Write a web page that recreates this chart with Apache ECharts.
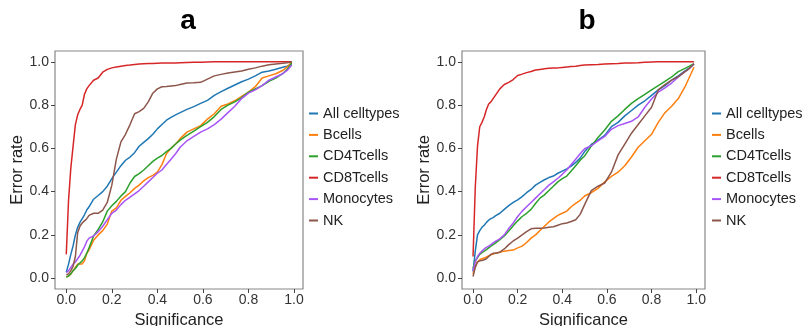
<!DOCTYPE html>
<html>
<head>
<meta charset="utf-8">
<script src="https://cdn.jsdelivr.net/npm/echarts@6/dist/echarts.min.js"></script>
<style>
  html, body { margin: 0; padding: 0; background: #fff; }
  #chart { width: 804px; height: 326px; }
</style>
</head>
<body>
<div id="chart"></div>
<script>
// significance levels (x), shared by every curve
var sig = [0, 0.01, 0.02, 0.03, 0.04, 0.05, 0.06, 0.07, 0.08, 0.09, 0.10, 0.12, 0.14, 0.16, 0.18, 0.20,
    0.22, 0.24, 0.26, 0.28, 0.30, 0.32, 0.34, 0.36, 0.38, 0.40, 0.42, 0.44, 0.46, 0.48, 0.50, 0.53,
    0.56, 0.59, 0.62, 0.65, 0.68, 0.71, 0.74, 0.77, 0.80, 0.83, 0.86, 0.89, 0.92, 0.95, 0.97, 0.99];

var cellTypes = ['All celltypes', 'Bcells', 'CD4Tcells', 'CD8Tcells', 'Monocytes', 'NK'];
var colors = ['#1f77b4', '#ff7f0e', '#2ca02c', '#d62728', '#a855f7', '#8c564b'];
var tickValues = [0, 0.2, 0.4, 0.6, 0.8, 1.0];

// panel a: error rate
var allA = [0.028, 0.065, 0.11, 0.15, 0.2, 0.235, 0.258, 0.275, 0.293, 0.315, 0.33, 0.365, 0.382, 0.40, 0.425, 0.46,
    0.49, 0.52, 0.545, 0.56, 0.58, 0.61, 0.628, 0.645, 0.665, 0.69, 0.71, 0.73, 0.743, 0.755, 0.765, 0.78,
    0.793, 0.808, 0.822, 0.845, 0.862, 0.878, 0.893, 0.908, 0.92, 0.935, 0.952, 0.958, 0.966, 0.975, 0.98, 0.99];
var bA = [0.005, 0.01, 0.02, 0.035, 0.05, 0.065, 0.066, 0.066, 0.08, 0.115, 0.13, 0.175, 0.20, 0.22, 0.25, 0.31,
    0.325, 0.36, 0.378, 0.395, 0.415, 0.43, 0.45, 0.465, 0.475, 0.49, 0.525, 0.575, 0.60, 0.62, 0.645, 0.675,
    0.69, 0.705, 0.735, 0.76, 0.795, 0.805, 0.82, 0.84, 0.86, 0.885, 0.925, 0.935, 0.945, 0.96, 0.975, 1.0];
var cd4A = [0.005, 0.01, 0.02, 0.035, 0.045, 0.06, 0.07, 0.08, 0.095, 0.115, 0.14, 0.195, 0.225, 0.26, 0.31, 0.335,
    0.355, 0.38, 0.40, 0.44, 0.47, 0.483, 0.50, 0.52, 0.54, 0.555, 0.567, 0.585, 0.60, 0.62, 0.638, 0.66,
    0.68, 0.70, 0.72, 0.747, 0.78, 0.80, 0.815, 0.835, 0.86, 0.875, 0.89, 0.91, 0.925, 0.945, 0.965, 0.995];
var cd8A = [0.11, 0.36, 0.51, 0.61, 0.71, 0.755, 0.78, 0.80, 0.85, 0.875, 0.89, 0.915, 0.925, 0.952, 0.965, 0.972,
    0.976, 0.98, 0.983, 0.985, 0.988, 0.99, 0.991, 0.992, 0.992, 0.993, 0.994, 0.994, 0.995, 0.995, 0.996, 0.997,
    0.998, 0.998, 0.999, 1.0, 1.0, 1.0, 1.0, 1.0, 1.0, 1.0, 1.0, 1.0, 1.0, 1.0, 1.0, 1.0];
var monoA = [0.025, 0.035, 0.05, 0.065, 0.075, 0.09, 0.105, 0.125, 0.145, 0.17, 0.185, 0.195, 0.215, 0.24, 0.27, 0.30,
    0.315, 0.34, 0.36, 0.375, 0.39, 0.405, 0.425, 0.445, 0.465, 0.485, 0.50, 0.525, 0.55, 0.575, 0.605, 0.635,
    0.655, 0.675, 0.69, 0.71, 0.735, 0.765, 0.795, 0.83, 0.855, 0.87, 0.89, 0.915, 0.93, 0.945, 0.96, 0.985];
var nkA = [0.015, 0.02, 0.035, 0.055, 0.1, 0.21, 0.24, 0.255, 0.265, 0.275, 0.29, 0.30, 0.30, 0.315, 0.35, 0.43,
    0.55, 0.63, 0.665, 0.71, 0.76, 0.77, 0.785, 0.815, 0.855, 0.875, 0.885, 0.886, 0.888, 0.89, 0.895, 0.902,
    0.903, 0.905, 0.92, 0.935, 0.942, 0.948, 0.953, 0.958, 0.966, 0.972, 0.98, 0.986, 0.99, 0.993, 0.996, 1.0];

// panel b: error rate
var allB = [0.03, 0.125, 0.2, 0.22, 0.235, 0.245, 0.258, 0.268, 0.275, 0.28, 0.288, 0.30, 0.318, 0.335, 0.35, 0.362,
    0.377, 0.395, 0.41, 0.43, 0.443, 0.455, 0.465, 0.472, 0.485, 0.495, 0.505, 0.518, 0.535, 0.555, 0.585, 0.618,
    0.638, 0.66, 0.70, 0.72, 0.75, 0.775, 0.80, 0.82, 0.845, 0.87, 0.89, 0.915, 0.935, 0.958, 0.972, 0.99];
var bB = [0.02, 0.055, 0.075, 0.085, 0.09, 0.093, 0.098, 0.103, 0.108, 0.112, 0.115, 0.12, 0.125, 0.128, 0.13, 0.14,
    0.148, 0.165, 0.185, 0.2, 0.22, 0.24, 0.26, 0.275, 0.29, 0.3, 0.31, 0.33, 0.346, 0.36, 0.38, 0.395,
    0.415, 0.445, 0.47, 0.49, 0.52, 0.56, 0.605, 0.635, 0.665, 0.72, 0.765, 0.795, 0.83, 0.885, 0.93, 0.975];
var cd4B = [0.045, 0.08, 0.095, 0.11, 0.118, 0.125, 0.132, 0.14, 0.148, 0.155, 0.162, 0.178, 0.195, 0.218, 0.242, 0.265,
    0.285, 0.30, 0.318, 0.345, 0.37, 0.385, 0.405, 0.425, 0.445, 0.46, 0.472, 0.495, 0.52, 0.545, 0.565, 0.61,
    0.65, 0.685, 0.725, 0.75, 0.78, 0.808, 0.83, 0.85, 0.87, 0.89, 0.91, 0.93, 0.955, 0.97, 0.98, 0.992];
var cd8B = [0.1, 0.42, 0.61, 0.70, 0.72, 0.745, 0.78, 0.805, 0.815, 0.83, 0.845, 0.875, 0.895, 0.905, 0.918, 0.937,
    0.943, 0.95, 0.955, 0.962, 0.965, 0.968, 0.97, 0.971, 0.972, 0.974, 0.976, 0.978, 0.98, 0.983, 0.985, 0.987,
    0.988, 0.99, 0.991, 0.992, 0.994, 0.995, 0.996, 0.998, 0.999, 1.0, 1.0, 1.0, 1.0, 1.0, 1.0, 1.0];
var monoB = [0.035, 0.075, 0.1, 0.115, 0.125, 0.135, 0.142, 0.148, 0.155, 0.163, 0.17, 0.182, 0.2, 0.23, 0.255, 0.285,
    0.31, 0.33, 0.35, 0.37, 0.39, 0.41, 0.43, 0.445, 0.462, 0.48, 0.50, 0.525, 0.55, 0.575, 0.598, 0.612,
    0.635, 0.655, 0.688, 0.705, 0.715, 0.725, 0.745, 0.79, 0.828, 0.86, 0.88, 0.902, 0.93, 0.955, 0.97, 0.99];
var nkB = [0.008, 0.05, 0.075, 0.08, 0.082, 0.085, 0.09, 0.1, 0.11, 0.115, 0.115, 0.12, 0.135, 0.155, 0.172, 0.185,
    0.2, 0.215, 0.228, 0.231, 0.231, 0.232, 0.235, 0.238, 0.245, 0.252, 0.255, 0.262, 0.27, 0.295, 0.34, 0.405,
    0.425, 0.44, 0.49, 0.57, 0.62, 0.67, 0.71, 0.75, 0.79, 0.87, 0.895, 0.915, 0.932, 0.955, 0.97, 0.99];

var panelA = [allA, bA, cd4A, cd8A, monoA, nkA];
var panelB = [allB, bB, cd4B, cd8B, monoB, nkB];

var FONT = '"Liberation Sans", Arial, sans-serif';

function makeXAxis(idx) {
    return {
        type: 'value', gridIndex: idx, min: -0.0495, max: 1.0395,
        name: 'Significance', nameLocation: 'middle', nameGap: 15,
        nameTextStyle: { fontFamily: FONT, fontSize: 16.5, color: '#222' },
        axisLine: { show: false, onZero: false },
        splitLine: { show: false },
        axisTick: { show: true, customValues: tickValues, length: 4, lineStyle: { color: '#444', width: 1 } },
        axisLabel: {
            customValues: tickValues, margin: 4, fontFamily: FONT, fontSize: 14, color: '#333',
            formatter: function (v) { return v.toFixed(1); }
        }
    };
}

function makeYAxis(idx) {
    return {
        type: 'value', gridIndex: idx, min: -0.05, max: 1.05,
        name: 'Error rate', nameLocation: 'middle', nameGap: 27, nameRotate: 90,
        nameTextStyle: { fontFamily: FONT, fontSize: 16.5, color: '#222' },
        axisLine: { show: false, onZero: false },
        splitLine: { show: false },
        axisTick: { show: true, customValues: tickValues, length: 4, lineStyle: { color: '#444', width: 1 } },
        axisLabel: {
            customValues: tickValues, margin: 6, fontFamily: FONT, fontSize: 14, color: '#333',
            formatter: function (v) { return v.toFixed(1); }
        }
    };
}

function makeLegend(left) {
    return {
        orient: 'vertical', left: left, top: 106, padding: 0,
        itemWidth: 9, itemHeight: 2, itemGap: 6.4,
        icon: 'rect',
        data: cellTypes,
        textStyle: { fontFamily: FONT, fontSize: 14.5, color: '#222', lineHeight: 14 }
    };
}

var series = [];
[panelA, panelB].forEach(function (panel, p) {
    panel.forEach(function (vals, i) {
        series.push({
            name: cellTypes[i],
            type: 'line',
            xAxisIndex: p,
            yAxisIndex: p,
            showSymbol: false,
            animation: false,
            color: colors[i],
            lineStyle: { width: 1.5, color: colors[i] },
            data: sig.map(function (x, k) { return [x, vals[k]]; })
        });
    });
});

var chart = echarts.init(document.getElementById('chart'));
chart.setOption({
    animation: false,
    title: [
        { text: 'a', left: 183, top: 2, textAlign: 'center',
          textStyle: { fontFamily: FONT, fontSize: 28, fontWeight: 'bold', color: '#000' } },
        { text: 'b', left: 582, top: 2, textAlign: 'center',
          textStyle: { fontFamily: FONT, fontSize: 28, fontWeight: 'bold', color: '#000' } }
    ],
    grid: [
        { left: 55, top: 51, width: 248, height: 238, outerBoundsMode: 'none', show: true,
          borderColor: '#888', borderWidth: 1.2, backgroundColor: 'transparent' },
        { left: 462, top: 51, width: 243, height: 238, outerBoundsMode: 'none', show: true,
          borderColor: '#888', borderWidth: 1.2, backgroundColor: 'transparent' }
    ],
    legend: [makeLegend(309), makeLegend(712)],
    xAxis: [makeXAxis(0), makeXAxis(1)],
    yAxis: [makeYAxis(0), makeYAxis(1)],
    series: series
});
</script>
</body>
</html>
